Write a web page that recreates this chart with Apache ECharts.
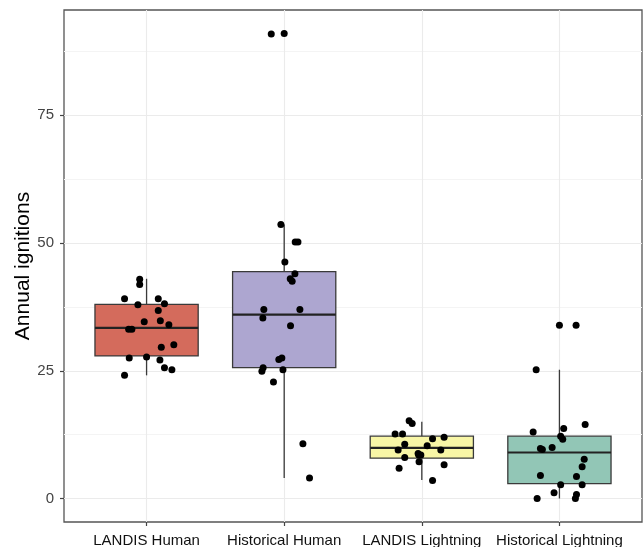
<!DOCTYPE html>
<html>
<head>
<meta charset="utf-8">
<script src="https://cdn.jsdelivr.net/npm/echarts@6/dist/echarts.min.js"></script>
<style>
  html, body { margin: 0; padding: 0; background: #ffffff; }
  #chart { width: 643px; height: 547px; }
</style>
</head>
<body>
<div id="chart"></div>
<script>
// categories on the x axis
var categories = ["LANDIS Human", "Historical Human", "LANDIS Lightning", "Historical Lightning"];
var boxColors = ["#D46B5C", "#ADA6D0", "#F8F6A6", "#92C6B6"];

// box stats per category: min, Q1, median, Q3, max (whisker ends)
var boxStats = [
  [24.1, 27.9, 33.4, 38.0, 43.0],
  [4.0, 25.6, 36.0, 44.4, 53.6],
  [3.6, 7.9, 9.9, 12.2, 15.0],
  [0.0, 2.9, 9.0, 12.2, 25.2]
];

// jittered points: horizontal offset from the category centre, and the value
var landisHumanJitter = [-0.05, -0.05, -0.16, 0.085, -0.063, 0.13, 0.085, -0.017, 0.10, 0.162, -0.13, -0.107, 0.198, 0.107, -0.126, 0, 0.097, 0.13, 0.184, -0.16];
var landisHumanValues = [42.9, 41.9, 39.1, 39.1, 37.9, 38.1, 36.8, 34.6, 34.8, 34.0, 33.1, 33.1, 30.1, 29.6, 27.5, 27.7, 27.1, 25.6, 25.2, 24.1];

var histHumanJitter = [-0.094, 0, -0.024, 0.08, 0.10, 0.005, 0.078, 0.044, 0.058, -0.148, 0.114, -0.155, 0.046, -0.017, -0.039, -0.153, -0.162, -0.009, -0.078, 0.136, 0.184];
var histHumanValues = [90.9, 91.0, 53.6, 50.2, 50.2, 46.3, 44.0, 43.0, 42.5, 37.0, 37.0, 35.3, 33.8, 27.5, 27.2, 25.6, 24.9, 25.2, 22.8, 10.7, 4.0];

var landisLightJitter = [-0.092, -0.07, -0.194, -0.14, 0.162, 0.078, -0.124, 0.039, -0.172, 0.138, -0.027, -0.007, -0.022, -0.124, -0.02, 0.162, -0.165, 0.078];
var landisLightValues = [15.2, 14.7, 12.6, 12.6, 12.0, 11.7, 10.6, 10.3, 9.5, 9.5, 8.8, 8.5, 8.5, 8.0, 7.2, 6.6, 5.9, 3.5];

var histLightJitter = [0, 0.121, -0.169, 0.187, 0.031, -0.191, 0.009, 0.024, -0.138, -0.124, -0.053, 0.18, 0.165, -0.138, 0.124, 0.009, 0.165, -0.039, 0.124, 0.116, -0.162];
var histLightValues = [33.9, 33.9, 25.2, 14.5, 13.7, 13.0, 12.2, 11.6, 9.8, 9.6, 10.0, 7.7, 6.2, 4.5, 4.3, 2.7, 2.7, 1.1, 0.8, 0.0, 0.0];

var yTicks = [0, 25, 50, 75];
var yMinorTicks = [12.5, 37.5, 62.5, 87.5];
var xTicks = [1, 2, 3, 4];

var BOX_WIDTH = 0.75;
var FONT = "'Liberation Sans', Arial, sans-serif";

var jitterGroups = [
  [landisHumanJitter, landisHumanValues],
  [histHumanJitter, histHumanValues],
  [landisLightJitter, landisLightValues],
  [histLightJitter, histLightValues]
];

var boxData = boxStats.map(function (s, i) {
  return [i + 1].concat(s);
});

var pointData = [];
jitterGroups.forEach(function (g, i) {
  g[1].forEach(function (v, j) {
    pointData.push([i + 1 + g[0][j], v]);
  });
});

function renderBox(params, api) {
  var x = api.value(0);
  var lo = api.coord([x, api.value(1)]);
  var q1 = api.coord([x, api.value(2)]);
  var med = api.coord([x, api.value(3)]);
  var q3 = api.coord([x, api.value(4)]);
  var hi = api.coord([x, api.value(5)]);
  var half = api.size([BOX_WIDTH, 0])[0] / 2;
  var lineStyle = { stroke: "#3a3a3a", lineWidth: 1.3 };
  return {
    type: "group",
    children: [
      { type: "line", shape: { x1: lo[0], y1: lo[1], x2: q1[0], y2: q1[1] }, style: lineStyle },
      { type: "line", shape: { x1: q3[0], y1: q3[1], x2: hi[0], y2: hi[1] }, style: lineStyle },
      {
        type: "rect",
        shape: { x: q3[0] - half, y: q3[1], width: half * 2, height: q1[1] - q3[1] },
        style: { fill: boxColors[params.dataIndex], stroke: "#3a3a3a", lineWidth: 1.3 }
      },
      {
        type: "line",
        shape: { x1: med[0] - half, y1: med[1], x2: med[0] + half, y2: med[1] },
        style: { stroke: "#222", lineWidth: 2.2 }
      }
    ]
  };
}

var chart = echarts.init(document.getElementById("chart"));
chart.setOption({
  animation: false,
  backgroundColor: "#ffffff",
  textStyle: { fontFamily: FONT },
  grid: {
    left: 64,
    right: 1,
    top: 10,
    bottom: 25,
    outerBoundsMode: "none",
    containLabel: false,
    show: true,
    borderColor: "#555555",
    borderWidth: 1.3,
    backgroundColor: "#ffffff"
  },
  xAxis: {
    type: "value",
    min: 0.4,
    max: 4.6,
    axisLine: { show: false, onZero: false },
    axisTick: { show: true, customValues: xTicks, length: 4, lineStyle: { color: "#444", width: 1.2 } },
    axisLabel: {
      customValues: xTicks,
      margin: 11,
      fontSize: 15,
      color: "#111",
      fontFamily: FONT,
      formatter: function (v) { return categories[Math.round(v) - 1] || ""; }
    },
    splitLine: { show: true, lineStyle: { color: "#EBEBEB", width: 1.1 } }
  },
  yAxis: [
    {
      type: "value",
      min: -4.6,
      max: 95.6,
      name: "Annual ignitions",
      nameLocation: "middle",
      nameRotate: 90,
      nameGap: 30,
      nameMoveOverlap: false,
      nameTextStyle: { fontSize: 21, color: "#000", fontFamily: FONT },
      axisLine: { show: false, onZero: false },
      axisTick: { show: true, customValues: yTicks, length: 4, lineStyle: { color: "#444", width: 1.2 } },
      axisLabel: { customValues: yTicks, margin: 10, fontSize: 15, color: "#444", fontFamily: FONT },
      splitLine: { show: true, lineStyle: { color: "#EBEBEB", width: 1.1 } }
    },
    {
      type: "value",
      min: -4.6,
      max: 95.6,
      position: "left",
      axisLine: { show: false, onZero: false },
      axisTick: { show: false, customValues: yMinorTicks },
      axisLabel: { show: false, customValues: yMinorTicks },
      splitLine: { show: true, lineStyle: { color: "#F4F4F4", width: 1 } }
    }
  ],
  series: [
    {
      type: "custom",
      name: "boxes",
      renderItem: renderBox,
      encode: { x: 0, y: [1, 2, 3, 4, 5] },
      data: boxData,
      z: 2
    },
    {
      type: "scatter",
      name: "points",
      symbol: "circle",
      symbolSize: 7,
      itemStyle: { color: "#000000", opacity: 1 },
      data: pointData,
      z: 3
    }
  ]
});
</script>
</body>
</html>
